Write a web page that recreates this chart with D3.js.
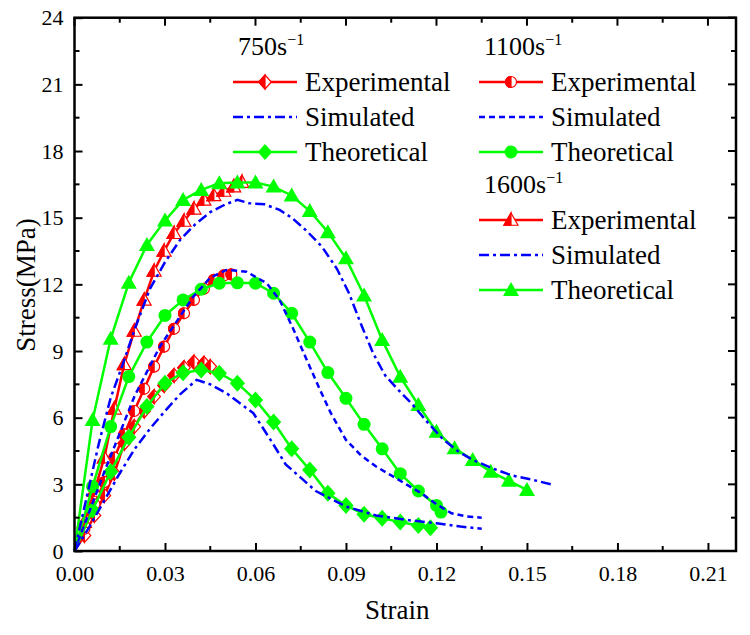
<!DOCTYPE html>
<meta charset="utf-8">
<title>Stress-strain</title>
<script src="https://d3js.org/d3.v7.min.js"></script>
<style>
    body { margin: 0; background: #fff; }
    svg text { font-family: "Liberation Serif", "DejaVu Serif", "Times New Roman", Times, serif !important; fill: #000; }
</style>
<body>
<script>
    // ---- data (strain, stress MPa) ----
    const exp750 = [[0,0],[0.0033,0.7],[0.0066,1.6],[0.0099,2.5],[0.0132,3.5],[0.0165,4.85],[0.0198,5.6],[0.0231,6.3],
        [0.0264,6.95],[0.0297,7.45],[0.033,7.9],[0.0363,8.25],[0.0396,8.5],[0.0429,8.45],[0.045,8.3]];
    const sim750 = [[0,0],[0.005,1.1],[0.01,2.3],[0.015,3.5],[0.02,4.6],[0.025,5.5],[0.03,6.3],[0.035,7.05],[0.0405,7.7],
        [0.045,7.5],[0.0504,7.1],[0.0593,6.2],[0.065,5.0],[0.07,3.9],[0.075,3.3],[0.08,2.7],[0.085,2.35],[0.09,2.0],
        [0.1,1.6],[0.11,1.4],[0.12,1.25],[0.128,1.1],[0.135,1.0]];
    const theo750 = [[0,0],[0.006,1.85],[0.012,3.57],[0.018,5.12],[0.024,6.5],[0.03,7.55],[0.036,8.02],[0.042,8.15],
        [0.048,8.0],[0.054,7.55],[0.06,6.8],[0.066,5.8],[0.072,4.6],[0.078,3.65],[0.084,2.6],[0.09,2.05],[0.096,1.65],
        [0.102,1.47],[0.108,1.3],[0.114,1.15],[0.118,1.05]];

    const exp1100 = [[0,0],[0.0033,1.0],[0.0066,2.1],[0.0099,3.1],[0.0132,4.2],[0.0165,5.25],[0.0198,6.3],[0.0231,7.3],
        [0.0264,8.3],[0.0297,9.2],[0.033,10.0],[0.0363,10.7],[0.0396,11.3],[0.0429,11.8],[0.0462,12.2],[0.0495,12.4],[0.052,12.45]];
    const sim1100 = [[0,0],[0.01,3.6],[0.02,7.0],[0.0283,9.2],[0.0394,11.45],[0.045,12.3],[0.0504,12.65],[0.057,12.57],
        [0.0637,12.05],[0.068,11.3],[0.0725,10.0],[0.077,8.6],[0.0814,7.25],[0.085,6.2],[0.09,5.0],[0.095,4.3],[0.1,3.8],
        [0.105,3.4],[0.11,3.0],[0.115,2.6],[0.12,2.1],[0.125,1.7],[0.13,1.55],[0.135,1.5]];
    const theo1100 = [[0,0],[0.006,2.9],[0.012,5.6],[0.018,7.85],[0.024,9.4],[0.03,10.6],[0.036,11.3],[0.042,11.78],
        [0.048,12.05],[0.054,12.07],[0.06,12.05],[0.066,11.6],[0.072,10.7],[0.078,9.4],[0.084,8.03],[0.09,6.87],
        [0.096,5.7],[0.102,4.6],[0.108,3.48],[0.114,2.7],[0.12,2.05],[0.1215,1.75]];

    const exp1600 = [[0,0],[0.0033,1.3],[0.0066,2.7],[0.0099,4.2],[0.0132,6.4],[0.0165,8.4],[0.0198,9.9],[0.0231,11.3],
        [0.0264,12.6],[0.0297,13.5],[0.033,14.3],[0.0363,14.85],[0.0396,15.4],[0.0429,15.8],[0.0462,16.0],[0.0495,16.2],
        [0.0528,16.4],[0.0555,16.6]];
    const sim1600 = [[0,0],[0.004,2.4],[0.008,4.8],[0.012,6.9],[0.016,8.4],[0.02,10.0],[0.025,11.8],[0.03,13.0],
        [0.035,14.0],[0.04,14.7],[0.045,15.25],[0.05,15.6],[0.054,15.8],[0.058,15.65],[0.063,15.6],[0.068,15.35],
        [0.072,15.0],[0.077,14.4],[0.082,13.7],[0.087,12.7],[0.091,11.6],[0.095,10.2],[0.099,8.9],[0.103,7.9],
        [0.107,7.3],[0.112,6.6],[0.117,5.8],[0.122,5.05],[0.127,4.5],[0.132,4.1],[0.138,3.75],[0.145,3.4],[0.152,3.2],[0.158,3.0]];
    const theo1600 = [[0,0],[0.006,5.9],[0.012,9.55],[0.018,12.07],[0.024,13.77],[0.03,14.87],[0.036,15.8],[0.042,16.25],
        [0.048,16.55],[0.054,16.58],[0.06,16.58],[0.066,16.4],[0.072,16.0],[0.078,15.3],[0.084,14.35],[0.09,13.17],
        [0.096,11.5],[0.102,9.5],[0.108,7.84],[0.114,6.57],[0.12,5.37],[0.126,4.62],[0.132,4.1],[0.138,3.57],
        [0.144,3.16],[0.15,2.75]];

    const xTicks = [0, 0.03, 0.06, 0.09, 0.12, 0.15, 0.18, 0.21];
    const yTicks = [0, 3, 6, 9, 12, 15, 18, 21, 24];
    const rates = ["750", "1100", "1600"];

    // ---- layout ----
    const width = 750, height = 635;
    const pLeft = 74.5, pRight = 736, pTop = 17.7, pBottom = 551;
    const SERIF = '"Liberation Serif", "DejaVu Serif", "Times New Roman", serif';

    const x = d3.scaleLinear().domain([0, 0.2193]).range([pLeft, pRight]);
    const y = d3.scaleLinear().domain([0, 24]).range([pBottom, pTop]);

    const RED = "#ff0000", BLUE = "#0000ff", GREEN = "#00ff00";

    const svg = d3.select("body").append("svg")
        .attr("width", width).attr("height", height)
        .attr("font-family", SERIF);

    // marker paths: full outline + left half
    const shapes = {
        tri: s => ({
            full: `M0,${-s}L${s},${s * 0.75}L${-s},${s * 0.75}Z`,
            half: `M0,${-s}L0,${s * 0.75}L${-s},${s * 0.75}Z`
        }),
        circ: s => ({
            full: `M0,${-s}A${s},${s} 0 1,1 0,${s}A${s},${s} 0 1,1 0,${-s}Z`,
            half: `M0,${-s}A${s},${s} 0 0,0 0,${s}Z`
        }),
        dia: s => ({
            full: `M0,${-s}L${s * 0.9},0L0,${s}L${-s * 0.9},0Z`,
            half: `M0,${-s}L0,${s}L${-s * 0.9},0Z`
        })
    };

    const line = d3.line().x(d => x(d[0])).y(d => y(d[1]));

    function drawMarker(g, type, size, color, halfFilled) {
        const p = shapes[type](size);
        if (halfFilled) {
            g.append("path").attr("d", p.full).attr("fill", "#fff").attr("stroke", color).attr("stroke-width", 1.2);
            g.append("path").attr("d", p.half).attr("fill", color).attr("stroke", color).attr("stroke-width", 1.2);
        } else {
            g.append("path").attr("d", p.full).attr("fill", color);
        }
    }

    const series = [
        { data: exp750, color: RED, type: "dia", size: 7, half: true },
        { data: exp1100, color: RED, type: "circ", size: 5.5, half: true },
        { data: exp1600, color: RED, type: "tri", size: 7, half: true },
        { data: theo750, color: GREEN, type: "dia", size: 8.5, half: false },
        { data: theo1100, color: GREEN, type: "circ", size: 6.5, half: false },
        { data: theo1600, color: GREEN, type: "tri", size: 8, half: false },
        { data: sim750, color: BLUE, dash: "10,4,3,4" },
        { data: sim1100, color: BLUE, dash: "6,4" },
        { data: sim1600, color: BLUE, dash: "10,4,3,4" }
    ];

    const plot = svg.append("g");
    series.forEach(s => {
        plot.append("path")
            .datum(s.data)
            .attr("d", line)
            .attr("fill", "none")
            .attr("stroke", s.color)
            .attr("stroke-width", 2.5)
            .attr("stroke-dasharray", s.dash || null);
        if (s.type) {
            s.data.slice(1).forEach(d => {
                const g = plot.append("g").attr("transform", `translate(${x(d[0])},${y(d[1])})`);
                drawMarker(g, s.type, s.size, s.color, s.half);
            });
        }
    });

    // ---- axes ----
    const xMinor = d3.range(0.015, 0.22, 0.03);
    const yMinor = d3.range(1.5, 24, 3);

    const xAxis = d3.axisBottom(x).tickValues(xTicks).tickFormat(d3.format(".2f")).tickSizeInner(-8).tickSizeOuter(0).tickPadding(14);
    const yAxis = d3.axisLeft(y).tickValues(yTicks).tickFormat(d3.format("d")).tickSizeInner(-8).tickSizeOuter(0).tickPadding(11);

    const gx = svg.append("g").attr("transform", `translate(0,${pBottom})`).call(xAxis);
    const gy = svg.append("g").attr("transform", `translate(${pLeft},0)`).call(yAxis);
    [gx, gy].forEach(g => {
        g.attr("font-family", SERIF).attr("font-size", 22);
        g.selectAll("line").attr("stroke-width", 2);
        g.select(".domain").remove();
    });

    // mirrored ticks on top/right and minor ticks
    const ticks = svg.append("g").attr("stroke", "#000").attr("stroke-width", 2);
    xTicks.forEach(t => ticks.append("line").attr("x1", x(t)).attr("x2", x(t)).attr("y1", pTop).attr("y2", pTop + 8));
    yTicks.forEach(t => ticks.append("line").attr("y1", y(t)).attr("y2", y(t)).attr("x1", pRight).attr("x2", pRight - 8));
    xMinor.forEach(t => {
        ticks.append("line").attr("x1", x(t)).attr("x2", x(t)).attr("y1", pBottom).attr("y2", pBottom - 5);
        ticks.append("line").attr("x1", x(t)).attr("x2", x(t)).attr("y1", pTop).attr("y2", pTop + 5);
    });
    yMinor.forEach(t => {
        ticks.append("line").attr("y1", y(t)).attr("y2", y(t)).attr("x1", pLeft).attr("x2", pLeft + 5);
        ticks.append("line").attr("y1", y(t)).attr("y2", y(t)).attr("x1", pRight).attr("x2", pRight - 5);
    });

    svg.append("rect")
        .attr("x", pLeft).attr("y", pTop)
        .attr("width", pRight - pLeft).attr("height", pBottom - pTop)
        .attr("fill", "none").attr("stroke", "#000").attr("stroke-width", 2.5);

    svg.append("text").attr("x", (pLeft + pRight) / 2 - 8).attr("y", 619)
        .attr("text-anchor", "middle").attr("font-size", 27).text("Strain");
    svg.append("text").attr("transform", "translate(35,285) rotate(-90)")
        .attr("text-anchor", "middle").attr("font-size", 27).text("Stress(MPa)");

    // ---- legend ----
    const legendBlocks = [
        { rate: rates[0], x: 233, y: 55, marker: "dia", dash: "10,4,3,4" },
        { rate: rates[1], x: 479, y: 55, marker: "circ", dash: "6,4" },
        { rate: rates[2], x: 479, y: 193, marker: "tri", dash: "10,4,3,4" }
    ];
    const rowH = 35;
    legendBlocks.forEach(b => {
        const g = svg.append("g");
        const head = g.append("text").attr("x", b.x + 5).attr("y", b.y).attr("font-size", 26);
        head.append("tspan").text(b.rate + "s");
        head.append("tspan").attr("dy", -10).attr("font-size", 16).text("\u22121");

        const rows = [
            { label: "Experimental", color: RED, marker: true, half: true },
            { label: "Simulated", color: BLUE, dash: b.dash },
            { label: "Theoretical", color: GREEN, marker: true, half: false }
        ];
        rows.forEach((r, i) => {
            const ry = b.y + 27 + i * rowH;
            g.append("line").attr("x1", b.x).attr("x2", b.x + 64).attr("y1", ry).attr("y2", ry)
                .attr("stroke", r.color).attr("stroke-width", 2.5).attr("stroke-dasharray", r.dash || null);
            if (r.marker) {
                const m = g.append("g").attr("transform", `translate(${b.x + 32},${ry})`);
                const sz = b.marker === "circ" ? (r.half ? 5.5 : 6.5) : (r.half ? 7 : 8);
                drawMarker(m, b.marker, sz, r.color, r.half);
            }
            g.append("text").attr("x", b.x + 72).attr("y", ry + 9).attr("font-size", 27).text(r.label);
        });
    });
</script>
</body>
